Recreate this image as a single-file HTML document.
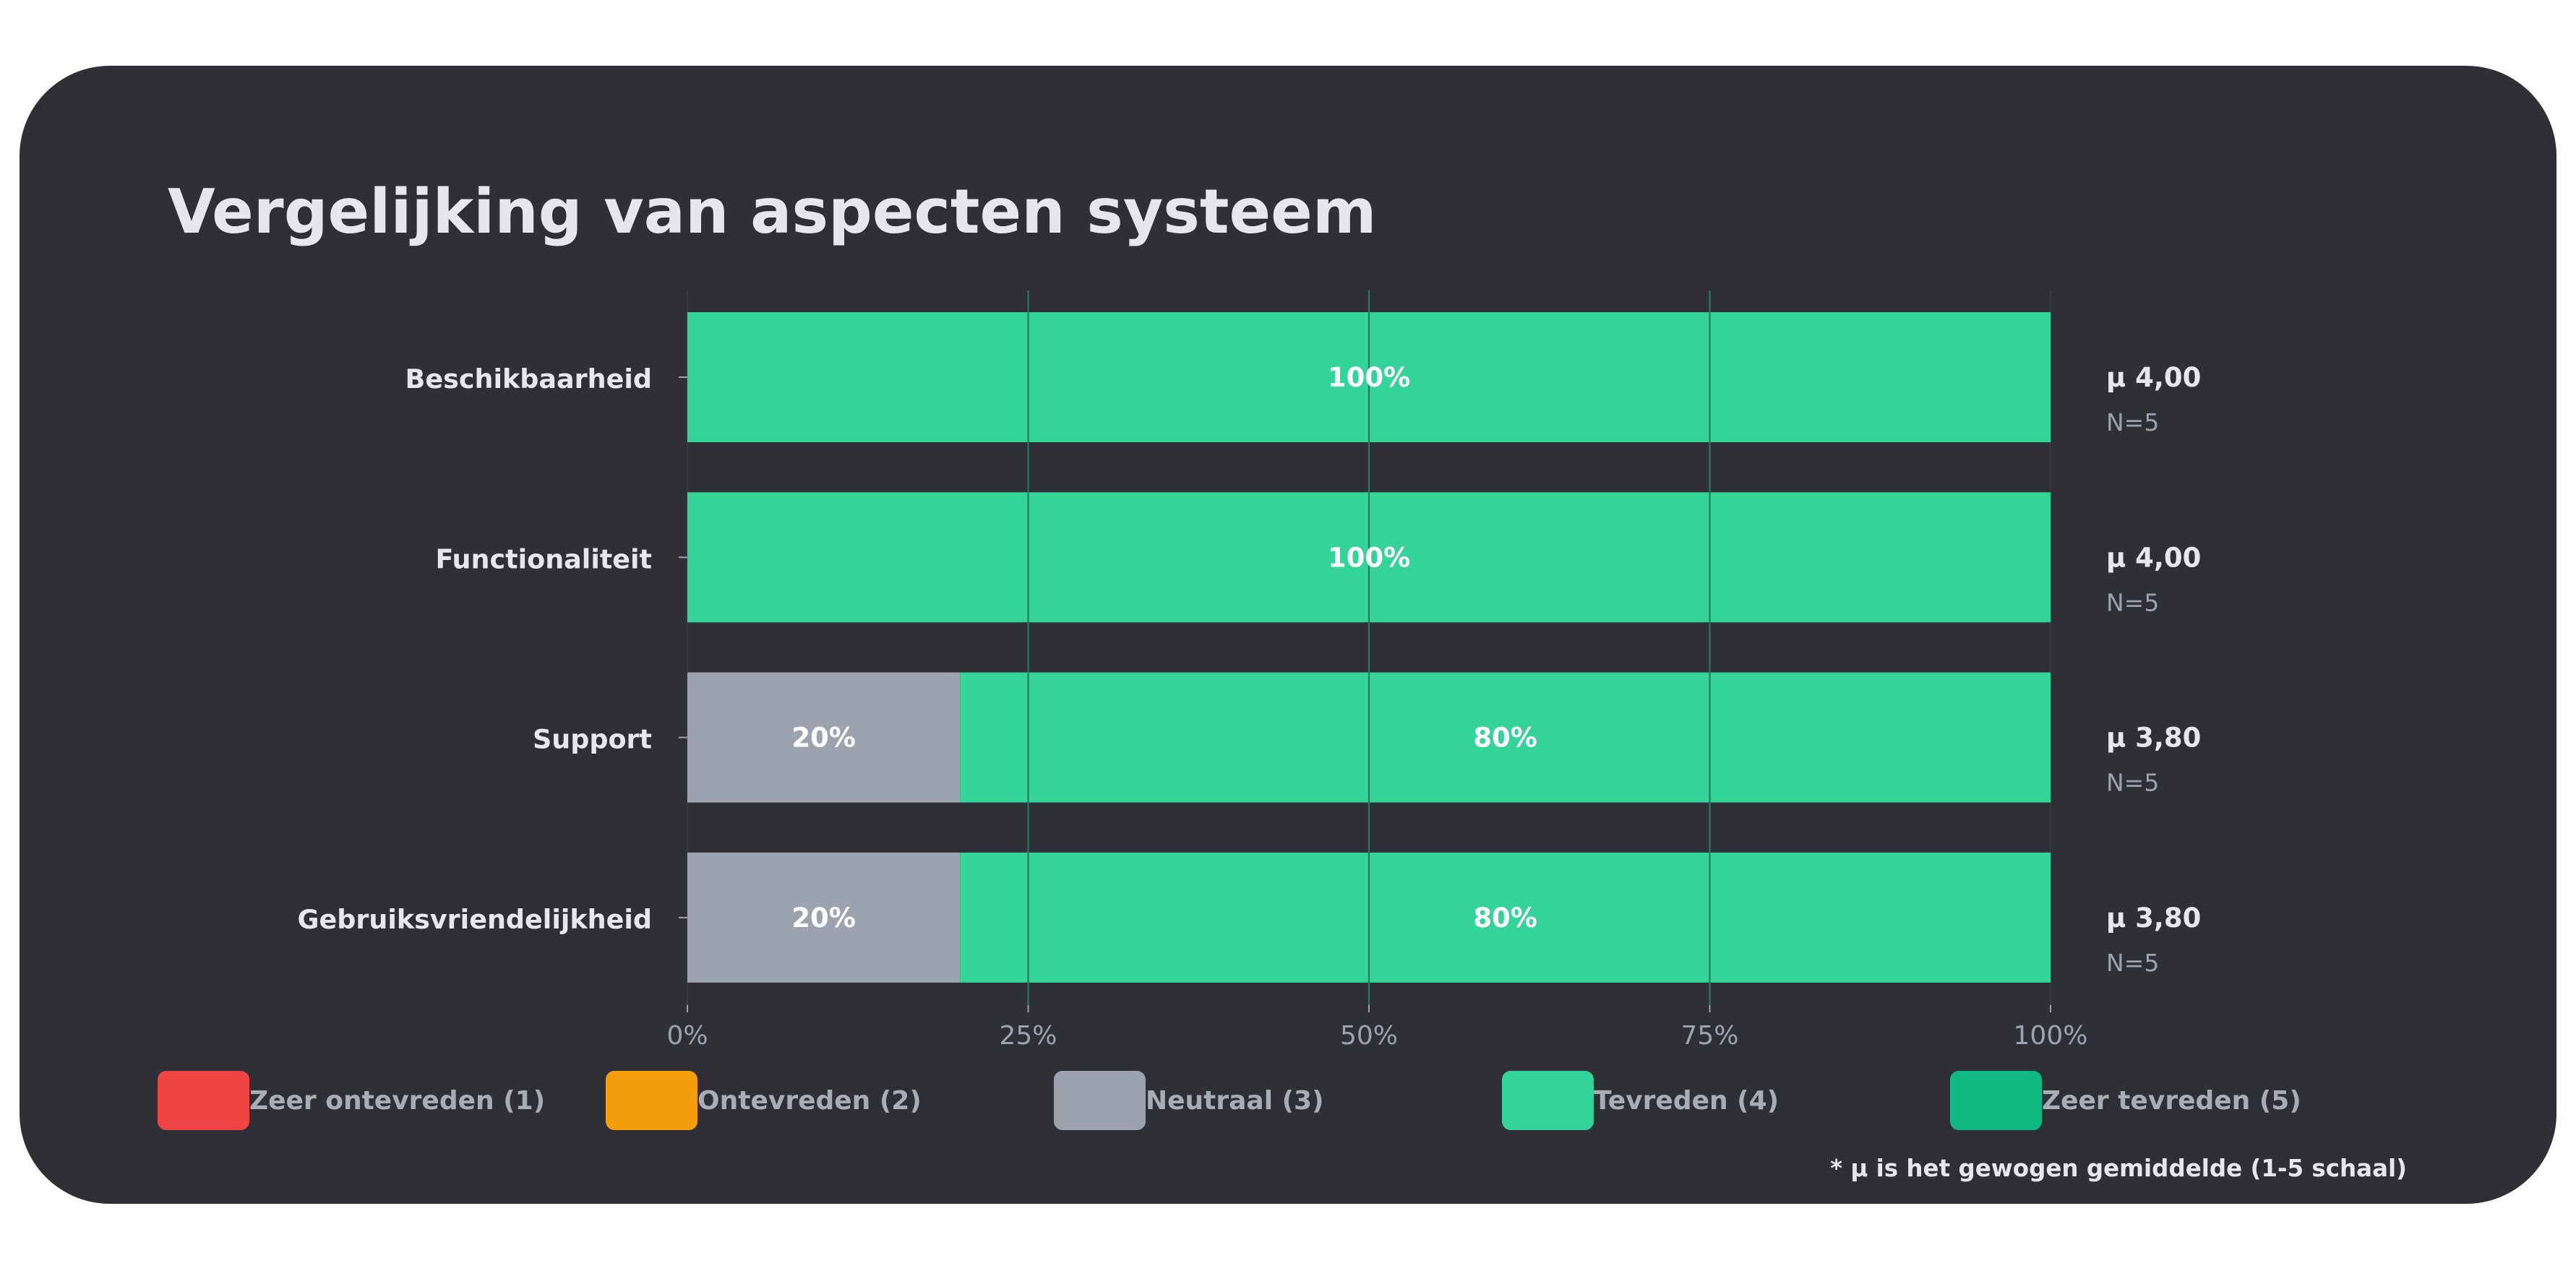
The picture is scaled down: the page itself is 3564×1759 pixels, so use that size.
<!DOCTYPE html>
<html><head><meta charset="utf-8"><style>
html,body{margin:0;padding:0;background:#fff;}
svg{display:block;font-family:"DejaVu Sans","Liberation Sans",sans-serif;}
</style></head><body>
<svg id="chart" width="3564" height="1759" viewBox="0 0 3564 1759">
<rect x="27" y="91" width="3510" height="1575" rx="125" fill="#2e3035"/>
<text x="232" y="322" font-size="85" font-weight="bold" fill="#e5e7eb">Vergelijking van aspecten systeem</text>
<g id="plot"></g>
<text x="3330" y="1628" font-size="32.5" font-weight="bold" fill="#e5e7eb" text-anchor="end">* μ is het gewogen gemiddelde (1-5 schaal)</text>
</svg>
<script>
const categories = ["Beschikbaarheid","Functionaliteit","Support","Gebruiksvriendelijkheid"];
const zeerOntevreden = [0,0,0,0];
const ontevreden = [0,0,0,0];
const neutraal = [0,0,20,20];
const tevreden = [100,100,80,80];
const zeerTevreden = [0,0,0,0];
const means = ["4,00","4,00","3,80","3,80"];
const counts = [5,5,5,5];
const tickValues = [0,25,50,75,100];
const tickLabels = ["0%","25%","50%","75%","100%"];
const legendLabels = ["Zeer ontevreden (1)","Ontevreden (2)","Neutraal (3)","Tevreden (4)","Zeer tevreden (5)"];

const colors = ["#ef4444","#f59e0b","#9ca3af","#34d399","#10b981"];
const series = [zeerOntevreden, ontevreden, neutraal, tevreden, zeerTevreden];
const NS = "http://www.w3.org/2000/svg";
const g = document.getElementById("plot");
const X0 = 951, X1 = 2837, AXT = 402, AXB = 1391;
const x = v => X0 + (X1 - X0) * v / 100;
const bandStart = 432, bandStep = 249.3, barH = 180;
const yTop = i => bandStart + i * bandStep;
function el(tag, attrs, text){
  const e = document.createElementNS(NS, tag);
  for (const k in attrs) e.setAttribute(k, attrs[k]);
  if (text !== undefined) e.textContent = text;
  g.appendChild(e);
  return e;
}
tickValues.forEach((t, i) => {
  const l = el("line", {x1:x(t), x2:x(t), y1:AXT, y2:AXB, stroke:"#383b40", "stroke-width":2});
  
  
});
categories.forEach((c, i) => {
  const y = yTop(i);
  let acc = 0;
  series.forEach((s, k) => {
    const v = s[i];
    if (v > 0) {
      const r = el("rect", {x:x(acc), y:y, width:x(acc+v)-x(acc), height:barH, fill:colors[k]});
      
      
      acc += v;
    }
  });
});
tickValues.forEach((t, i) => {
  if (t === 0 || t === 100) return;
  const l = el("line", {x1:x(t), x2:x(t), y1:AXT, y2:AXB, stroke:"#267a5c", "stroke-width":2.2});
  
  
});
categories.forEach((c, i) => {
  const y = yTop(i), cy = y + barH / 2;
  let acc = 0;
  series.forEach((s, k) => {
    const v = s[i];
    if (v > 0) {
      const t = el("text", {x:(x(acc)+x(acc+v))/2, y:cy+13, "font-size":37, "font-weight":"bold", fill:"#ffffff", "text-anchor":"middle"}, v + "%");
      
      
      acc += v;
    }
  });
  const lab = el("text", {x:902, y:cy+15, "font-size":36.5, "font-weight":"bold", fill:"#e5e7eb", "text-anchor":"end"}, c);
  
  
  const tk = el("line", {x1:939, x2:951, y1:cy, y2:cy, stroke:"#9ca3af", "stroke-width":2});
  
  
  const m = el("text", {x:2914, y:cy+13, "font-size":37, "font-weight":"bold", fill:"#e5e7eb"}, "μ " + means[i]);
  
  
  const n = el("text", {x:2914, y:cy+74, "font-size":33, fill:"#9ca3af"}, "N=" + counts[i]);
  
  
});
tickValues.forEach((t, i) => {
  const tk = el("line", {x1:x(t), x2:x(t), y1:AXB, y2:AXB+10, stroke:"#9ca3af", "stroke-width":2});
  
  
  const tl = el("text", {x:x(t), y:1445, "font-size":36, fill:"#9ca3af", "text-anchor":"middle"}, tickLabels[i]);
  
  
});
legendLabels.forEach((lbl, k) => {
  const bx = 218 + k * 620;
  const r = el("rect", {x:bx, y:1482, width:127, height:82, rx:12, fill:colors[k]});
  
  
  const t = el("text", {x:bx+127, y:1535, "font-size":36, "font-weight":"bold", fill:"#a8adb5"}, lbl);
  
  
});
</script>
</body></html>
